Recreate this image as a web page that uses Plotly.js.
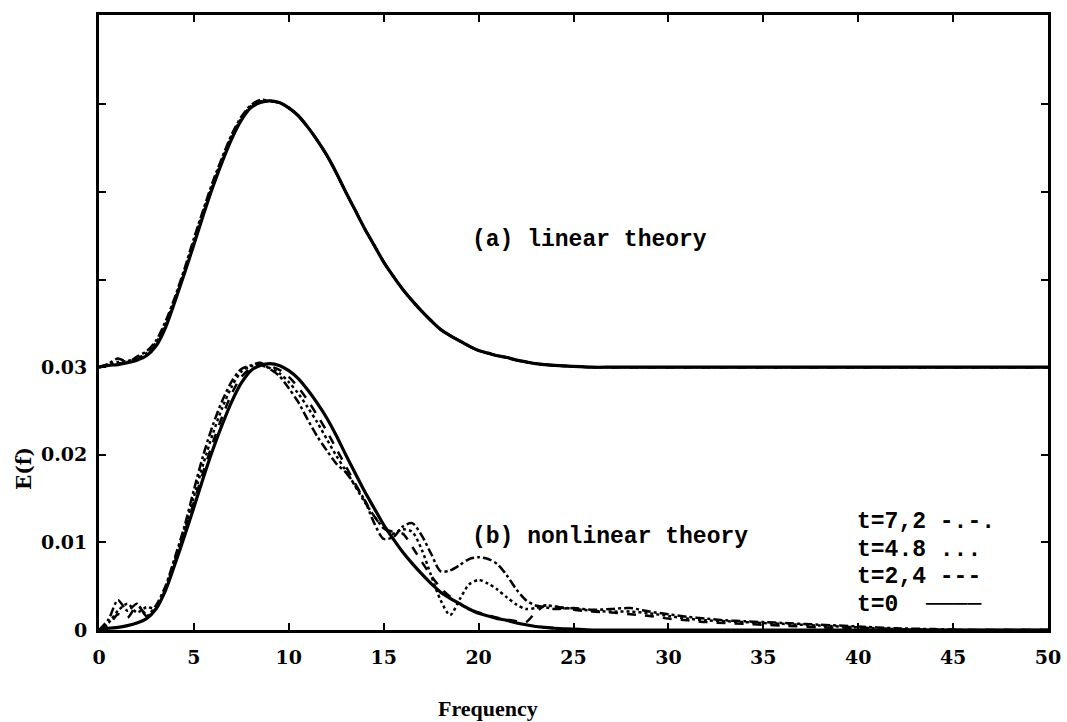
<!DOCTYPE html>
<html>
<head>
<meta charset="utf-8">
<script src="https://cdn.plot.ly/plotly-3.0.1.min.js"></script>
<style>html,body{margin:0;padding:0;background:#fff;}#chart{width:1067px;height:722px;}</style>
</head>
<body>
<div id="chart"></div>
<script>
// Frequency grid
const freq = [0,0.5,1,1.5,2,2.5,3,3.5,4,4.5,5,5.5,6,6.5,7,7.5,8,8.5,9,9.5,10,10.5,11,11.5,12,12.5,13,13.5,14,14.5,15,15.5,16,16.5,17,17.5,18,18.5,19,19.5,20,20.5,21,21.5,22,22.5,23,23.5,24,
  25,26,27,28,29,30,31,32,33,34,35,36,38,40,42,44,46,48,50];

// t = 0 (initial spectrum, identical in both panels)
const E_t0 = [0,0.0002,0.0003,0.0005,0.0008,0.0013,0.0024,0.0045,0.0075,0.0107,0.0140,0.0174,0.0206,0.0235,0.0261,0.0282,0.0296,0.0302,0.0304,0.0302,0.0296,0.0287,0.0274,0.0259,0.0242,0.0222,0.0200,0.0179,0.0158,0.0139,0.0120,0.0104,0.0089,0.0076,0.0064,0.0053,0.0043,0.0036,0.0030,0.0024,0.0019,0.0016,0.0013,0.0011,0.0008,0.0006,0.0004,0.0003,0.0002,
  0.0001,0,0,0,0,0,0,0,0,0,0,0,0,0,0,0,0,0,0];

// (a) linear theory (plotted with an offset of 0.03)
const linearOffset = 0.03;
const lin_t24 = [0,0.0002,0.0004,0.0006,0.0009,0.0014,0.0026,0.0047,0.0077,0.0108,0.0142,0.0176,0.0207,0.0236,0.0262,0.0283,0.0297,0.0303,0.0304,0.0302,0.0296,0.0287,0.0274,0.0259,0.0242,0.0222,0.0200,0.0179,0.0158,0.0139,0.0120,0.0104,0.0089,0.0076,0.0064,0.0053,0.0043,0.0036,0.0030,0.0024,0.0019,0.0016,0.0013,0.0011,0.0008,0.0006,0.0004,0.0003,0.0002,
  0.0001,0,0,0,0,0,0,0,0,0,0,0,0,0,0,0,0,0,0];
const lin_t48 = [0,0.0003,0.0006,0.0007,0.0010,0.0016,0.0028,0.0049,0.0078,0.0110,0.0144,0.0178,0.0209,0.0238,0.0264,0.0284,0.0298,0.0303,0.0304,0.0302,0.0296,0.0287,0.0274,0.0259,0.0242,0.0222,0.0200,0.0179,0.0158,0.0139,0.0120,0.0104,0.0089,0.0076,0.0064,0.0053,0.0043,0.0036,0.0030,0.0024,0.0019,0.0016,0.0013,0.0011,0.0008,0.0006,0.0004,0.0003,0.0002,
  0.0001,0,0,0,0,0,0,0,0,0,0,0,0,0,0,0,0,0,0];
const lin_t72 = [0,0.0004,0.0010,0.0006,0.0012,0.0018,0.0030,0.0052,0.0080,0.0112,0.0147,0.0180,0.0212,0.0240,0.0266,0.0286,0.0299,0.0305,0.0304,0.0302,0.0296,0.0287,0.0274,0.0259,0.0242,0.0222,0.0200,0.0179,0.0158,0.0139,0.0120,0.0104,0.0089,0.0076,0.0064,0.0053,0.0043,0.0036,0.0030,0.0024,0.0019,0.0016,0.0013,0.0011,0.0008,0.0006,0.0004,0.0003,0.0002,
  0.0001,0,0,0,0,0,0,0,0,0,0,0,0,0,0,0,0,0,0];

// (b) nonlinear theory
const nl_t24 = [0,0.0005,0.0018,0.0014,0.0028,0.0018,0.0024,0.0046,0.0078,0.0111,0.0146,0.0181,0.0214,0.0244,0.0270,0.0289,0.0299,0.0303,0.0301,0.0297,0.0289,0.0277,0.0262,0.0245,0.0227,0.0207,0.0187,0.0167,0.0148,0.0130,0.0116,0.0112,0.0110,0.0095,0.0078,0.0062,0.0048,0.0038,0.0030,0.0024,0.0020,0.0017,0.0014,0.0012,0.0010,0.0009,0.0020,0.0028,0.0027,
  0.0023,0.0021,0.0020,0.0018,0.0016,0.0013,0.0011,0.0009,0.0008,0.0007,0.0006,0.0005,0.0003,0.0002,0.0001,0,0,0,0];
const nl_t48 = [0,0.0008,0.0022,0.0030,0.0020,0.0026,0.0025,0.0048,0.0080,0.0114,0.0152,0.0190,0.0224,0.0254,0.0278,0.0295,0.0301,0.0302,0.0299,0.0293,0.0283,0.0270,0.0254,0.0237,0.0218,0.0199,0.0182,0.0164,0.0146,0.0130,0.0116,0.0110,0.0115,0.0112,0.0092,0.0062,0.0034,0.0017,0.0035,0.0052,0.0057,0.0053,0.0046,0.0037,0.0029,0.0024,0.0025,0.0028,0.0027,
  0.0024,0.0022,0.0021,0.0021,0.0019,0.0016,0.0013,0.0011,0.0010,0.0009,0.0008,0.0007,0.0005,0.0003,0.0001,0,0,0,0];
const nl_t72 = [0,0.0012,0.0034,0.0022,0.0030,0.0016,0.0028,0.0050,0.0083,0.0118,0.0160,0.0200,0.0234,0.0262,0.0284,0.0298,0.0302,0.0305,0.0298,0.0290,0.0276,0.0260,0.0240,0.0221,0.0205,0.0190,0.0180,0.0165,0.0148,0.0122,0.0104,0.0106,0.0118,0.0122,0.0108,0.0087,0.0067,0.0068,0.0074,0.0081,0.0083,0.0081,0.0075,0.0062,0.0046,0.0034,0.0028,0.0026,0.0024,
  0.0025,0.0023,0.0024,0.0025,0.0021,0.0018,0.0015,0.0013,0.0011,0.0010,0.0009,0.0008,0.0006,0.0004,0.0002,0.0001,0,0,0];

// Axis ticks
const xTicks = [0,5,10,15,20,25,30,35,40,45,50];
const yTickVals = [0,0.01,0.02,0.03,0.04,0.05,0.06];
const yTickText = ['0','0.01','0.02','0.03','','',''];

// Legend entries (text drawn as in the original figure)
const legendLabels = ['t=7,2 -.-.', 't=4.8 ...', 't=2,4 ---', 't=0  \u2500\u2500\u2500\u2500'];
const legendY = [0.01232, 0.00913, 0.00605, 0.00285];

const black = '#000';
function tr(y, dash, width){
  return {x: freq, y: y, type:'scatter', mode:'lines',
    line:{color:black, width:width, dash:dash, shape:'spline', smoothing:0.8},
    hoverinfo:'skip', showlegend:false};
}
const off = a => a.map(v => v + linearOffset);

const data = [
  tr(off(lin_t72), 'dashdot', 2.5),
  tr(off(lin_t48), 'dot', 2.5),
  tr(off(lin_t24), 'dash', 2.5),
  tr(off(E_t0), 'solid', 3.2),
  tr(nl_t72, 'dashdot', 2.5),
  tr(nl_t48, 'dot', 2.5),
  tr(nl_t24, 'dash', 2.5),
  tr(E_t0, 'solid', 3.2)
];

const monoFont = {family:'Liberation Mono, DejaVu Sans Mono, monospace', size:23, color:black, weight:'bold'};
const annotations = [
  {x:19.55, y:0.0445, xref:'x', yref:'y', text:'(a) linear theory', showarrow:false, xanchor:'left', yanchor:'middle', font:monoFont},
  {x:19.55, y:0.0106, xref:'x', yref:'y', text:'(b) nonlinear theory', showarrow:false, xanchor:'left', yanchor:'middle', font:monoFont},
  {x:0.41, y:-0.127, xref:'paper', yref:'paper', text:'Frequency', showarrow:false, xanchor:'center', yanchor:'middle',
    font:{family:'Liberation Serif, serif', size:22, color:black, weight:'bold'}},
  {x:-0.079, y:0.262, xref:'paper', yref:'paper', text:'E(f)', showarrow:false, textangle:-90, xanchor:'center', yanchor:'middle',
    font:{family:'DejaVu Serif, serif', size:20, color:black, weight:'bold'}}
];
legendLabels.forEach((t,i)=>{
  annotations.push({x:39.83, y:legendY[i], xref:'x', yref:'y', text:t, showarrow:false, xanchor:'left', yanchor:'middle', font:monoFont});
});

const tickFont = {family:'DejaVu Serif, serif', size:19, color:black, weight:'bold'};
const layout = {
  width:1067, height:722,
  margin:{l:99, r:19, t:15, b:92, pad:0},
  paper_bgcolor:'#fff', plot_bgcolor:'#fff',
  showlegend:false,
  xaxis:{range:[0,50], tickvals:xTicks, ticktext:xTicks.map(String), ticks:'inside', ticklen:7, tickwidth:2, tickcolor:black,
    showline:true, linewidth:3, linecolor:black, mirror:'ticks', showgrid:false, zeroline:false,
    tickfont:tickFont, ticklabelstandoff:8},
  yaxis:{range:[0,0.0702], tickvals:yTickVals, ticktext:yTickText, ticks:'inside', ticklen:7, tickwidth:2, tickcolor:black,
    showline:true, linewidth:3, linecolor:black, mirror:'ticks', showgrid:false, zeroline:false,
    tickfont:tickFont, ticklabelstandoff:5},
  annotations: annotations
};
Plotly.newPlot('chart', data, layout, {staticPlot:true, displayModeBar:false});
</script>
</body>
</html>
